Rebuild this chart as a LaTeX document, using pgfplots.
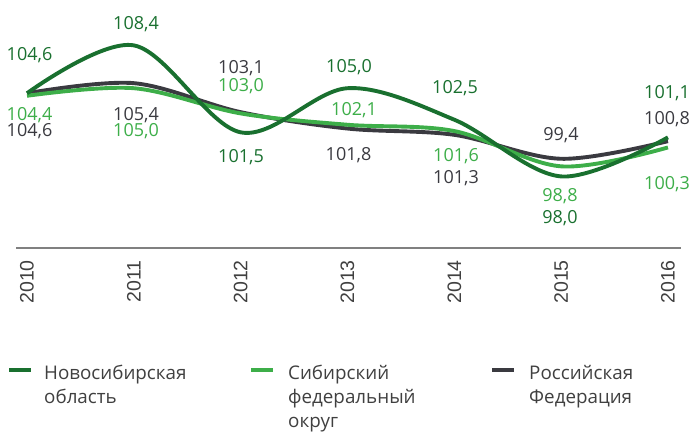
\documentclass[border=0pt]{standalone}
\usepackage{fontspec}
\setmainfont{Open Sans}
\newfontfamily\yearfont{Liberation Sans}
\usepackage{pgfplots}
\pgfplotsset{compat=1.18}
\definecolor{dg}{HTML}{19702F}
\definecolor{lg}{HTML}{3DAE49}
\definecolor{gr}{HTML}{3A3A40}
\definecolor{ax}{HTML}{808080}
\definecolor{tx}{HTML}{404040}
\newcommand\lab[4]{\node[text=#1, font=\fontsize{18}{18}\selectfont, inner sep=0pt, text height=12.85pt, text depth=0pt, anchor=center] at (#2,432-#3) {#4};}
\newcommand\leg[3]{\node[text=tx, font=\fontsize{18.8}{18.8}\selectfont, inner sep=0pt, anchor=base west] at (#1,432-#2) {#3};}
\begin{document}
\begin{tikzpicture}[x=1pt,y=1pt]
\path[use as bounding box] (0,0) rectangle (694,432);
\begin{axis}[at={(16pt,184pt)}, anchor=south west, scale only axis,
  width=665pt, height=248pt,
  xmin=2009.897, xmax=2016.122, ymin=92.32, ymax=112.0,
  axis x line=bottom, axis y line=none,
  axis line style={ax, line width=1.3pt, -},
  xtick={2010,2011,2012,2013,2014,2015,2016},
  xticklabels={2010,2011,2012,2013,2014,2015,2016},
  major tick length=0pt,
  xticklabel style={rotate=90, anchor=east, font=\yearfont\fontsize{19.5}{19.5}\selectfont, text=tx, inner sep=0pt},
  xticklabel shift=12pt,
  clip=false]
\addplot[gr, line width=3.9pt, smooth, tension=0.55] coordinates {(2010,104.6)(2011,105.4)(2012,103.1)(2013,101.8)(2014,101.3)(2015,99.4)(2016,100.8)};
\addplot[lg, line width=3.9pt, smooth, tension=0.55] coordinates {(2010,104.4)(2011,105.0)(2012,103.0)(2013,102.1)(2014,101.6)(2015,98.8)(2016,100.3)};
\addplot[dg, line width=3.9pt, smooth, tension=0.55] coordinates {(2010,104.6)(2011,108.4)(2012,101.5)(2013,105.0)(2014,102.5)(2015,98.0)(2016,101.1)};
\end{axis}
% data labels
\lab{dg}{29.5}{54}{104,6}
\lab{dg}{136}{23.5}{108,4}
\lab{dg}{241}{156}{101,5}
\lab{dg}{349}{66}{105,0}
\lab{dg}{455}{87}{102,5}
\lab{dg}{560}{217}{98,0}
\lab{dg}{667}{92}{101,1}
\lab{lg}{29.5}{114}{104,4}
\lab{lg}{136}{130.5}{105,0}
\lab{lg}{241}{85.5}{103,0}
\lab{lg}{354}{109}{102,1}
\lab{lg}{456}{155.5}{101,6}
\lab{lg}{560}{195}{98,8}
\lab{lg}{667}{183}{100,3}
\lab{gr}{29.5}{130.5}{104,6}
\lab{gr}{136}{114}{105,4}
\lab{gr}{241}{67}{103,1}
\lab{gr}{348.5}{154.5}{101,8}
\lab{gr}{456}{177.5}{101,3}
\lab{gr}{561}{134}{99,4}
\lab{gr}{667}{118.5}{100,8}
% legend
\draw[dg, line width=3.8pt] (9,432-370) -- (31,432-370);
\leg{44}{379}{Новосибирская}
\leg{44}{403}{область}
\draw[lg, line width=3.8pt] (251,432-370) -- (273,432-370);
\leg{288}{379}{Сибирский}
\leg{288}{403}{федеральный}
\leg{288}{427}{округ}
\draw[gr, line width=3.8pt] (492,432-370) -- (514,432-370);
\leg{529}{379}{Российская}
\leg{529}{403}{Федерация}
\end{tikzpicture}
\end{document}
